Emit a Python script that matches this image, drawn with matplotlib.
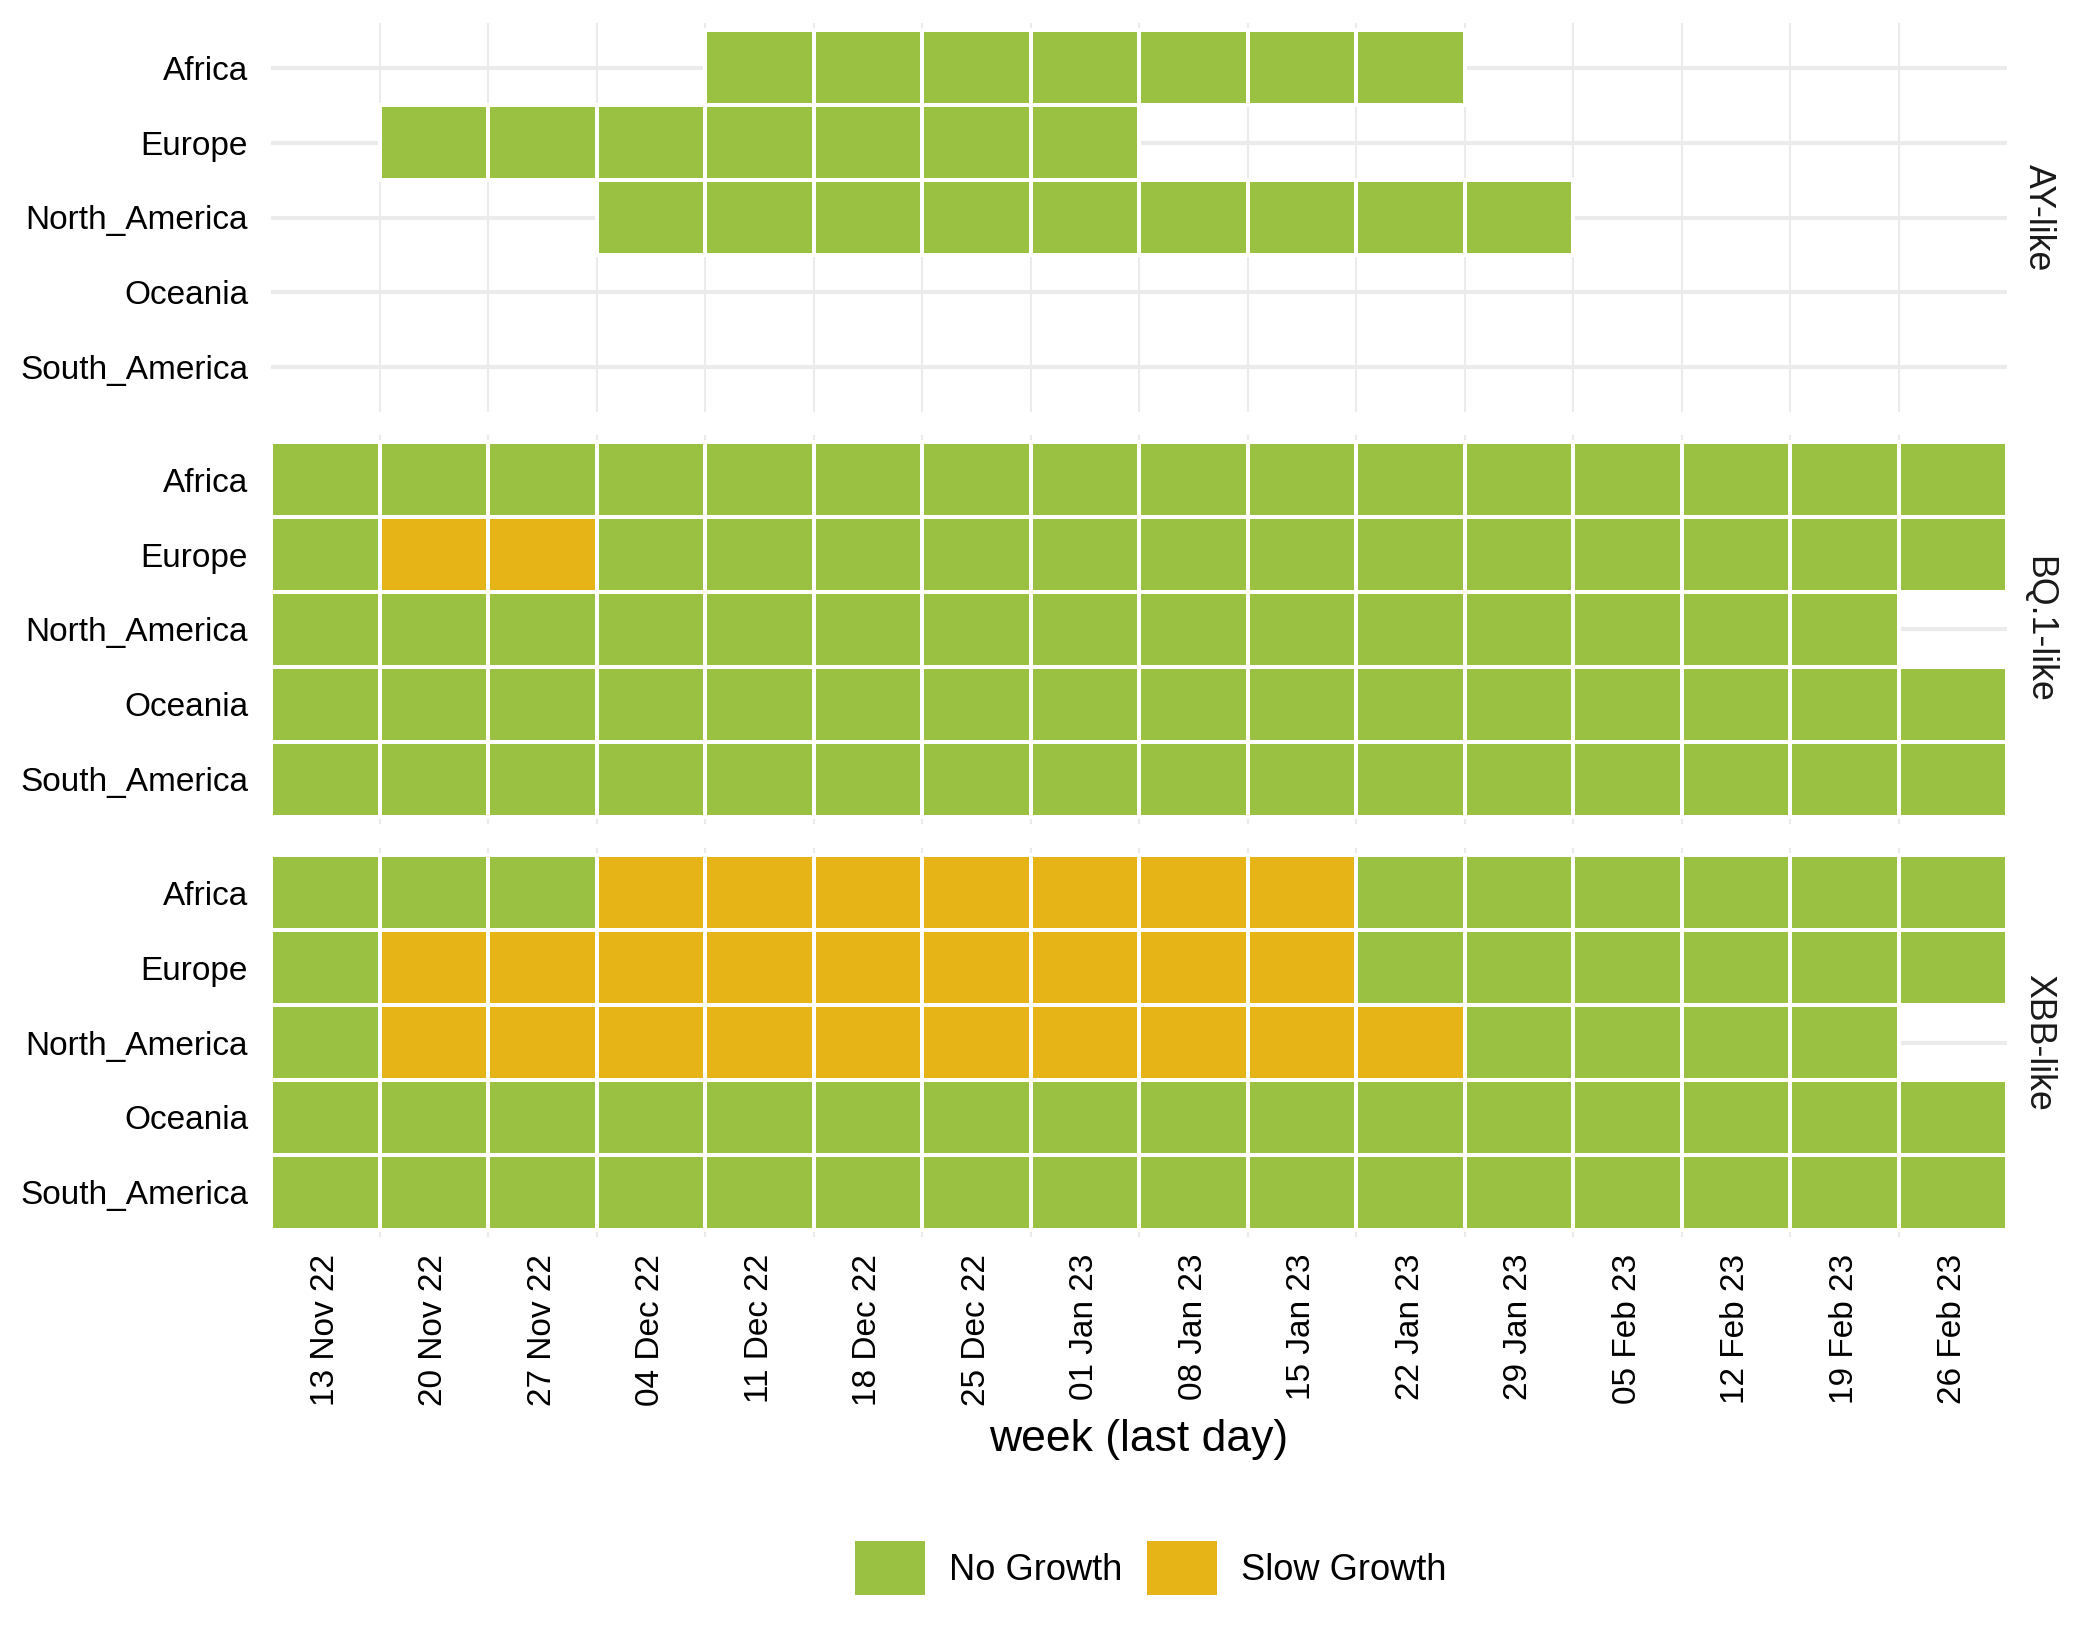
#!/usr/bin/env python3
# -*- coding: utf-8 -*-
"""
Weekly growth status per region, faceted by lineage (tile chart)
"""

import matplotlib
matplotlib.use('Agg')
import matplotlib.pyplot as plt
from matplotlib.patches import Patch
import numpy as np

plt.rcParams['font.family'] = ['Liberation Sans', 'DejaVu Sans']
plt.rcParams['figure.dpi'] = 300

WEEKS = ['13 Nov 22', '20 Nov 22', '27 Nov 22', '04 Dec 22', '11 Dec 22',
         '18 Dec 22', '25 Dec 22', '01 Jan 23', '08 Jan 23', '15 Jan 23',
         '22 Jan 23', '29 Jan 23', '05 Feb 23', '12 Feb 23', '19 Feb 23',
         '26 Feb 23']
REGIONS = ['Africa', 'Europe', 'North_America', 'Oceania', 'South_America']
VARIANTS = ['AY-like', 'BQ.1-like', 'XBB-like']

# one string per region, one char per week
# N = No Growth, S = Slow Growth, . = no data
AY_LIKE = [
    '....NNNNNNN.....',
    '.NNNNNNN........',
    '...NNNNNNNNN....',
    '................',
    '................',
]
BQ1_LIKE = [
    'NNNNNNNNNNNNNNNN',
    'NSSNNNNNNNNNNNNN',
    'NNNNNNNNNNNNNNN.',
    'NNNNNNNNNNNNNNNN',
    'NNNNNNNNNNNNNNNN',
]
XBB_LIKE = [
    'NNNSSSSSSSNNNNNN',
    'NSSSSSSSSSNNNNNN',
    'NSSSSSSSSSSNNNN.',
    'NNNNNNNNNNNNNNNN',
    'NNNNNNNNNNNNNNNN',
]

STATUS = {'N': 'No Growth', 'S': 'Slow Growth'}
COLORS = {'No Growth': '#9AC141', 'Slow Growth': '#E6B416'}

GRID = '#EBEBEB'


def draw_panel(ax, rows, variant, show_x):
    for code, name in STATUS.items():
        xs, ys = [], []
        for r, row in enumerate(rows):
            for w, c in enumerate(row):
                if c == code:
                    xs.append(w)
                    ys.append(r)
        if not xs:
            continue
        ys = np.array(ys)
        ax.bar(xs, 1.0, bottom=ys - 0.5, width=1.0, color=COLORS[name],
               edgecolor='white', linewidth=0.96, zorder=3)

    ax.set_xlim(-0.5, len(WEEKS) - 0.5)
    ax.set_ylim(len(REGIONS) - 1 + 0.6, -0.6)

    ax.set_yticks(range(len(REGIONS)))
    ax.set_yticklabels(REGIONS, fontsize=8)
    ax.set_xticks(range(len(WEEKS)))
    ax.set_xticks(np.arange(0.5, len(WEEKS) - 1, 1.0), minor=True)
    if show_x:
        ax.set_xticklabels(WEEKS, rotation=90, fontsize=8)
    else:
        ax.set_xticklabels([])

    ax.tick_params(axis='both', which='both', length=0)
    ax.tick_params(axis='y', pad=5.5)
    ax.tick_params(axis='x', pad=4)

    # grid: horizontal at rows, vertical between weeks
    ax.grid(axis='y', which='major', color=GRID, linewidth=1.0)
    ax.grid(axis='x', which='minor', color=GRID, linewidth=0.5)
    ax.grid(axis='x', which='major', visible=False)
    ax.set_axisbelow(True)
    for s in ax.spines.values():
        s.set_visible(False)

    # facet strip on the right
    ax.text(1.018, 0.5, variant, transform=ax.transAxes, rotation=-90,
            ha='center', va='center', fontsize=8.6, color='#1A1A1A')


def plot_fig():
    fig = plt.figure(figsize=(7, 5.5), dpi=300)

    left, width = 271 / 2100, 1736 / 2100
    height = 389 / 1650
    tops = [23, 435, 848]
    panels = [AY_LIKE, BQ1_LIKE, XBB_LIKE]

    for i, (rows, variant) in enumerate(zip(panels, VARIANTS)):
        bottom = 1 - (tops[i] + 389) / 1650
        ax = fig.add_axes([left, bottom, width, height])
        draw_panel(ax, rows, variant, show_x=(i == len(panels) - 1))

    fig.text(left + width / 2, 1 - 1440 / 1650, 'week (last day)',
             ha='center', va='center', fontsize=10.7)

    handles = [Patch(facecolor=COLORS[n], edgecolor='none', label=n)
               for n in STATUS.values()]
    fig.legend(handles=handles, loc='center', bbox_to_anchor=(0.548, 1 - 1568 / 1650),
               ncol=2, frameon=False, fontsize=8.7, handlelength=1.93,
               handleheight=1.93, handletextpad=0.66, columnspacing=0.7)

    fig.savefig('out.png', dpi=300)
    plt.close(fig)


if __name__ == '__main__':
    plot_fig()
